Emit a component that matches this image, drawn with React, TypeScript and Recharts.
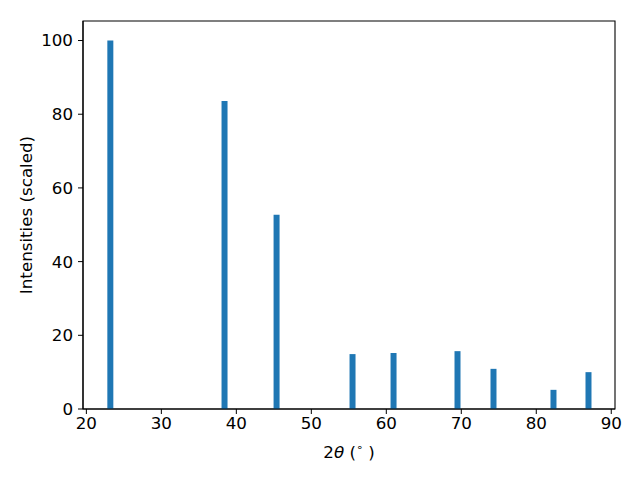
import React from 'react';
import { BarChart, Bar, XAxis, YAxis, ReferenceArea } from 'recharts';

// peak positions (2θ, degrees) and scaled intensities
const angles = [23.13, 38.36, 45.3, 55.43, 60.9, 69.43, 74.23, 82.23, 86.9];
const intensities = [100, 83.6, 52.7, 14.9, 15.2, 15.7, 10.9, 5.2, 10.0];
const xTicks = [20, 30, 40, 50, 60, 70, 80, 90];
const yTicks = [0, 20, 40, 60, 80, 100];

const X_DOMAIN: [number, number] = [19.55, 90.5];
const Y_DOMAIN: [number, number] = [0, 105.3];

const FONT = '"DejaVu Sans", sans-serif';
const FS = 16.7;
const BLUE = '#1f77b4';

const data = angles.map((a, i) => ({ angle: a, intensity: intensities[i] }));

const XLabel = (props: any) => {
  const vb = props.viewBox || {};
  const cx = vb.x + vb.width / 2;
  return (
    <text x={cx} y={vb.y + 49} textAnchor="middle" fontFamily={FONT} fontSize={FS} fill="#000">
      <tspan>2</tspan>
      <tspan fontStyle="italic">θ</tspan>
      <tspan> (</tspan>
      <tspan fontSize={11} dy={-7}>∘</tspan>
      <tspan dy={7}> )</tspan>
    </text>
  );
};

const YLabel = (props: any) => {
  const vb = props.viewBox || {};
  const cy = vb.y + vb.height / 2;
  const cx = 26;
  return (
    <text
      x={cx}
      y={cy}
      transform={`rotate(-90, ${cx}, ${cy})`}
      textAnchor="middle"
      dominantBaseline="central"
      fontFamily={FONT}
      fontSize={FS}
      fill="#000"
    >
      Intensities (scaled)
    </text>
  );
};

const tickStyle = { fontFamily: FONT, fontSize: FS, fill: '#000' };

export default function App() {
  return (
    <div style={{ position: 'absolute', left: 0, top: 0, width: 640, height: 480, background: '#fff' }}>
      <BarChart
        width={640}
        height={480}
        data={data}
        margin={{ top: 21, right: 25, left: 0, bottom: 0 }}
      >
        <XAxis
          dataKey="angle"
          type="number"
          domain={X_DOMAIN}
          ticks={xTicks}
          allowDataOverflow
          height={71}
          tickSize={5}
          tickMargin={3}
          tick={tickStyle}
          stroke="#000"
          tickLine={{ stroke: '#000' }}
          axisLine={{ stroke: '#000', strokeWidth: 1.1 }}
          label={<XLabel />}
        />
        <YAxis
          type="number"
          domain={Y_DOMAIN}
          ticks={yTicks}
          allowDataOverflow
          width={83}
          tickSize={5}
          tickMargin={5}
          tick={tickStyle}
          tickLine={{ stroke: '#000' }}
          axisLine={{ stroke: '#000', strokeWidth: 1.1 }}
          label={<YLabel />}
        />
        <Bar dataKey="intensity" fill={BLUE} barSize={6} isAnimationActive={false} />
        {/* frame: top and right spines */}
        <ReferenceArea
          x1={X_DOMAIN[0]}
          x2={X_DOMAIN[1]}
          y1={Y_DOMAIN[0]}
          y2={Y_DOMAIN[1]}
          fill="none"
          fillOpacity={0}
          stroke="#000"
          strokeWidth={1.1}
          ifOverflow="visible"
        />
      </BarChart>
    </div>
  );
}
